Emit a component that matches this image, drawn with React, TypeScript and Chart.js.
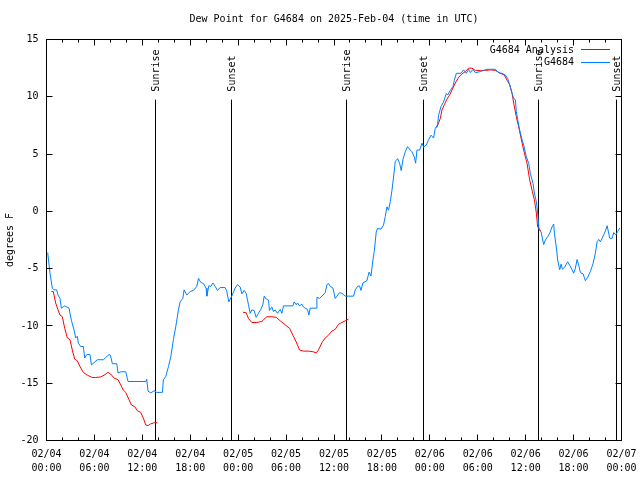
import React, { useEffect, useRef } from "react";
import { Chart, registerables } from "chart.js";

Chart.register(...registerables);

const FONT = '"DejaVu Sans Mono", "Liberation Mono", monospace';

const titleText = "Dew Point for G4684 on 2025-Feb-04 (time in UTC)";
const yAxisTitle = "degrees F";
const seriesNames = ["G4684 Analysis", "G4684"];
const seriesColors = ["#ff0000", "#0080ff"];

// x axis: hours since 02/04 00:00 UTC
const tickDays = ["02/04", "02/05", "02/06", "02/07"];
const tickTimes = ["00:00", "06:00", "12:00", "18:00"];

const eventHours = [13.63, 23.16, 37.57, 47.22, 61.63, 71.33];
const eventLabels = ["Sunrise", "Sunset", "Sunrise", "Sunset", "Sunrise", "Sunset"];

const blueHours = [
  0.15, 0.44, 0.73, 0.94, 1.27, 1.44, 1.69, 1.86, 2.28, 2.82, 3.11, 3.45, 3.66, 3.86, 3.99, 4.28, 4.61, 4.79,
  5.04, 5.45, 5.62, 5.95, 6.37, 7.12, 7.42, 7.83, 8.0, 8.25, 8.8, 8.96, 9.37, 9.92, 10.21, 12.43, 12.55, 12.72,
  13.05, 13.47, 13.8, 14.51, 14.64, 14.94, 15.27, 15.56, 15.89, 16.19, 16.52, 16.73, 17.07, 17.23, 17.57, 17.98,
  18.4, 18.82, 19.03, 19.32, 19.65, 19.99, 20.08, 20.33, 20.58, 20.83, 21.12, 21.41, 21.74, 22.37, 22.58, 22.83,
  23.2, 23.62, 23.91, 24.25, 24.46, 24.75, 25.0, 25.29, 25.5, 25.71, 26.0, 26.25, 26.54, 26.84, 27.09, 27.26,
  27.51, 27.8, 27.92, 28.22, 28.42, 28.63, 28.92, 29.26, 29.47, 29.67, 30.85, 31.02, 31.27, 31.43, 31.68, 31.98,
  32.18, 32.39, 32.68, 32.86, 33.02, 33.77, 33.86, 34.19, 34.49, 34.9, 35.11, 35.32, 35.53, 35.87, 36.15, 36.37,
  36.7, 36.99, 37.41, 38.45, 38.66, 38.95, 39.2, 39.37, 39.62, 40.12, 40.4, 40.63, 40.87, 41.04, 41.29, 41.45,
  41.88, 42.2, 42.42, 42.63, 42.83, 43.05, 43.26, 43.46, 43.67, 43.96, 44.21, 44.42, 44.64, 44.92, 45.21, 45.55,
  45.76, 46.05, 46.22, 46.39, 46.72, 47.02, 47.22, 47.56, 47.85, 48.15, 48.47, 48.68, 48.97, 49.1, 49.4, 49.72,
  50.06, 50.22, 50.56, 50.9, 51.07, 51.32, 51.9, 52.23, 52.57, 52.86, 53.07, 53.41, 53.7, 54.32, 54.74, 55.16,
  56.2, 56.62, 57.04, 57.46, 57.75, 58.0, 58.3, 58.5, 58.71, 58.83, 59.0, 59.25, 59.55, 59.75, 60.09, 60.38,
  60.59, 60.92, 61.09, 61.34, 61.5, 61.68, 61.93, 62.26, 62.47, 62.76, 63.01, 63.31, 63.51, 63.6, 63.85, 64.01,
  64.26, 64.44, 64.6, 64.85, 65.26, 65.51, 65.81, 66.02, 66.23, 66.44, 66.64, 66.86, 67.19, 67.48, 67.77, 68.1,
  68.44, 68.73, 68.94, 69.15, 69.36, 69.57, 69.77, 69.99, 70.2, 70.53, 70.83, 71.03, 71.28, 71.53, 71.78,
];
const blueValues = [
  -3.6, -5.4, -6.7, -6.85, -6.85, -7.3, -7.6, -8.45, -8.25, -8.45, -9.5, -10.35, -11.05, -10.9, -11.5, -11.8, -11.8, -12.8,
  -12.5, -12.5, -13.4, -13.2, -12.95, -12.95, -12.75, -12.5, -12.55, -13.3, -13.3, -14.1, -14.0, -14.0, -14.85, -14.85, -14.65, -15.7,
  -15.85, -15.65, -15.8, -15.8, -14.7, -14.4, -13.55, -12.7, -11.2, -10.05, -8.6, -7.9, -7.6, -6.85, -7.3, -7.0,
  -6.9, -6.55, -5.85, -6.2, -6.3, -6.7, -7.4, -6.5, -6.55, -6.25, -6.55, -6.9, -6.65, -6.65, -7.0, -7.9,
  -7.4, -6.7, -6.4, -6.6, -7.2, -6.9, -7.15, -8.15, -8.9, -8.6, -8.65, -9.25, -8.9, -8.55, -8.15, -7.4,
  -7.65, -7.75, -8.65, -8.35, -8.75, -8.6, -8.9, -8.55, -8.9, -8.25, -8.25, -7.9, -8.15, -8.0, -8.25, -8.1,
  -8.35, -8.45, -8.55, -9.05, -8.45, -8.45, -7.5, -7.6, -7.4, -7.1, -6.4, -6.3, -6.55, -6.7, -7.6, -7.4,
  -7.1, -7.15, -7.4, -7.4, -6.85, -6.55, -6.5, -6.9, -6.25, -6.05, -5.3, -5.65, -4.25, -3.5, -1.8, -1.5,
  -1.55, -1.2, -0.45, 0.4, 0.1, 0.85, 1.85, 3.0, 4.35, 4.6, 4.2, 3.55, 4.55, 5.2, 5.65, 5.35,
  5.2, 4.75, 4.2, 5.35, 5.35, 5.95, 5.6, 5.8, 6.25, 6.65, 6.4, 7.25, 7.55, 8.4, 9.15, 9.55,
  10.3, 10.15, 10.55, 10.9, 11.45, 12.05, 12.05, 12.35, 12.05, 12.4, 12.1, 12.4, 12.1, 12.2, 12.3, 12.4,
  12.4, 12.1, 12.05, 11.9, 11.6, 11.05, 10.3, 9.85, 9.75, 8.7, 8.0, 7.1, 6.25, 5.8, 4.75, 4.2,
  3.3, 2.45, 1.6, 0.85, -0.15, -1.6, -1.8, -2.9, -2.5, -2.2, -1.9, -1.35, -1.1, -1.9, -3.2, -4.25,
  -5.1, -4.6, -5.05, -4.9, -4.4, -4.7, -5.1, -5.4, -4.95, -4.2, -4.7, -5.35, -5.45, -6.05, -5.75, -5.25,
  -4.55, -3.65, -2.65, -2.45, -2.65, -2.35, -2.05, -1.7, -1.25, -2.35, -2.35, -1.85, -2.05, -1.75, -1.45,
];

// analysis series, null marks a gap
const redHours = [
  0.6, 0.85, 1.15, 1.44, 1.69, 1.98, 2.28, 2.61, 2.94, 3.23, 3.53, 3.86, 4.2, 4.61, 5.11, 5.74, 6.17, 6.79,
  7.21, 7.71, 8.04, 8.46, 8.96, 9.3, 9.62, 9.92, 10.34, 10.63, 11.05, 11.38, 11.8, 12.13, 12.43, 12.72, 13.05,
  13.47, 13.88,
  19.0,
  24.59, 25.0, 25.29, 25.71, 26.34, 26.97, 27.59, 28.22, 28.76, 29.26, 29.89, 30.43, 30.85, 31.27, 31.68, 32.18,
  32.81, 33.36, 33.77, 34.06, 34.49, 34.9, 35.32, 35.74, 36.15, 36.57, 36.99, 37.41, 37.82,
  43.0,
  48.85, 49.31, 49.52, 49.81, 50.15, 50.48, 50.78, 51.19, 51.6, 52.03, 52.44, 52.86, 53.28, 53.7, 54.32, 54.95,
  55.58, 56.2, 56.83, 57.33, 57.67, 58.0, 58.3, 58.5, 58.83, 59.12, 59.42, 59.75, 60.17, 60.5, 60.8, 61.09,
  61.34, 61.5, 61.75, 61.93,
];
const redValues = [
  -7.0, -7.0, -8.0, -8.6, -9.05, -9.2, -10.2, -11.05, -11.2, -12.1, -12.9, -13.05, -13.55, -14.05, -14.3, -14.5, -14.5, -14.45,
  -14.3, -14.05, -14.2, -14.55, -14.7, -15.15, -15.6, -15.8, -16.45, -16.9, -17.05, -17.4, -17.55, -18.05, -18.65, -18.7, -18.55,
  -18.45, -18.45,
  null,
  -8.8, -8.85, -9.35, -9.7, -9.7, -9.6, -9.2, -9.2, -9.25, -9.55, -9.9, -10.2, -10.8, -11.4, -12.1, -12.2,
  -12.2, -12.25, -12.35, -12.1, -11.45, -11.05, -10.8, -10.45, -10.3, -9.85, -9.7, -9.55, -9.4,
  null,
  7.3, 8.1, 8.85, 9.3, 9.8, 10.15, 10.6, 11.2, 11.7, 12.0, 12.2, 12.5, 12.5, 12.3, 12.3, 12.3,
  12.35, 12.3, 12.05, 11.9, 11.45, 11.05, 10.3, 9.45, 8.25, 7.4, 6.4, 5.35, 4.2, 2.75, 1.85, 1.0,
  -0.15, -1.35, -1.6, -1.7,
];

const X_MIN = 0;
const X_MAX = 72;
const Y_MIN = -20;
const Y_MAX = 15;

const decorPlugin = {
  id: "decor",
  beforeDatasetsDraw(chart: any) {
    const { ctx, chartArea, scales } = chart;
    const xs = scales.x;
    const h = chartArea.bottom - chartArea.top;
    ctx.save();
    ctx.strokeStyle = "#000";
    ctx.lineWidth = 1;
    ctx.fillStyle = "#000";
    ctx.font = `10px ${FONT}`;
    eventHours.forEach((hr, i) => {
      const px = Math.floor(xs.getPixelForValue(hr)) + 0.5;
      ctx.beginPath();
      ctx.moveTo(px, chartArea.top + 0.15 * h);
      ctx.lineTo(px, chartArea.bottom);
      ctx.stroke();
      ctx.save();
      ctx.translate(px + 1, chartArea.top + 0.13 * h);
      ctx.rotate(-Math.PI / 2);
      ctx.textAlign = "left";
      ctx.textBaseline = "middle";
      ctx.fillText(eventLabels[i], 0, 0);
      ctx.restore();
    });
    ctx.restore();
  },
  afterDatasetsDraw(chart: any) {
    const { ctx, chartArea, scales } = chart;
    const xs = scales.x;
    const ys = scales.y;
    const { left, right, top, bottom } = chartArea;
    ctx.save();
    ctx.strokeStyle = "#000";
    ctx.lineWidth = 1;
    ctx.strokeRect(left, top, right - left, bottom - top);
    ctx.beginPath();
    for (let v = X_MIN; v <= X_MAX; v += 2) {
      const px = Math.floor(xs.getPixelForValue(v)) + 0.5;
      const len = v % 6 === 0 ? 6 : 3;
      ctx.moveTo(px, bottom);
      ctx.lineTo(px, bottom - len);
      ctx.moveTo(px, top);
      ctx.lineTo(px, top + len);
    }
    for (let v = Y_MIN; v <= Y_MAX; v += 5) {
      const py = Math.floor(ys.getPixelForValue(v)) + 0.5;
      ctx.moveTo(left, py);
      ctx.lineTo(left + 6, py);
      ctx.moveTo(right, py);
      ctx.lineTo(right - 6, py);
    }
    ctx.stroke();

    ctx.fillStyle = "#000";
    ctx.font = `10px ${FONT}`;
    ctx.textAlign = "center";
    ctx.textBaseline = "middle";
    ctx.fillText(titleText, (left + right) / 2, 19.5);

    ctx.save();
    ctx.translate(10.5, 240);
    ctx.rotate(-Math.PI / 2);
    ctx.fillText(yAxisTitle, 0, 0);
    ctx.restore();

    const rows = [50, 62.5];
    seriesNames.forEach((name, i) => {
      ctx.textAlign = "right";
      ctx.fillStyle = "#000";
      ctx.fillText(name, 574, rows[i]);
      ctx.strokeStyle = seriesColors[i];
      ctx.beginPath();
      ctx.moveTo(581, Math.floor(rows[i]) - 0.5 + (i === 1 ? 1 : 0));
      ctx.lineTo(610, Math.floor(rows[i]) - 0.5 + (i === 1 ? 1 : 0));
      ctx.stroke();
    });
    ctx.restore();
  },
};

export default function App() {
  const canvasRef = useRef<HTMLCanvasElement | null>(null);

  useEffect(() => {
    if (!canvasRef.current) return;
    const chart = new Chart(canvasRef.current, {
      type: "line",
      data: {
        datasets: [
          {
            label: seriesNames[1],
            data: blueHours.map((x, i) => ({ x, y: blueValues[i] })),
            borderColor: seriesColors[1],
            borderWidth: 1,
            pointRadius: 0,
            tension: 0,
            fill: false,
            order: 0,
          },
          {
            label: seriesNames[0],
            data: redHours.map((x, i) => ({ x, y: redValues[i] })),
            borderColor: seriesColors[0],
            borderWidth: 1,
            pointRadius: 0,
            tension: 0,
            fill: false,
            spanGaps: false,
            order: 1,
          },
        ],
      },
      options: {
        responsive: false,
        animation: false,
        devicePixelRatio: 1,
        layout: { autoPadding: false, padding: { top: 39.5, right: 18.5, left: 0, bottom: 0 } },
        plugins: {
          legend: { display: false },
          title: { display: false },
          tooltip: { enabled: false },
        },
        scales: {
          x: {
            type: "linear",
            min: X_MIN,
            max: X_MAX,
            grid: { display: false, drawTicks: false },
            border: { display: false },
            afterFit: (scale: any) => {
              scale.height = 39.5;
              scale.paddingLeft = 0;
              scale.paddingRight = 0;
            },
            afterBuildTicks: (scale: any) => {
              const t = [];
              for (let v = X_MIN; v <= X_MAX; v += 6) t.push({ value: v });
              scale.ticks = t;
            },
            ticks: {
              autoSkip: false,
              maxRotation: 0,
              minRotation: 0,
              padding: 7,
              color: "#000",
              font: { family: FONT, size: 10, lineHeight: 1.4 },
              callback: (value: any) => {
                const v = Number(value);
                const day = Math.floor(v / 24);
                const slot = Math.round((v % 24) / 6);
                return [tickDays[day], tickTimes[slot]];
              },
            },
          },
          y: {
            type: "linear",
            min: Y_MIN,
            max: Y_MAX,
            grid: { display: false, drawTicks: false },
            border: { display: false },
            afterFit: (scale: any) => {
              scale.width = 46.5;
              scale.paddingTop = 0;
              scale.paddingBottom = 0;
            },
            ticks: {
              stepSize: 5,
              padding: 8,
              color: "#000",
              font: { family: FONT, size: 10 },
              callback: (value: any) => String(value),
            },
          },
        },
      },
      plugins: [decorPlugin],
    } as any);
    return () => chart.destroy();
  }, []);

  return (
    <div style={{ position: "fixed", left: 0, top: 0, width: 640, height: 480, background: "#fff" }}>
      <canvas ref={canvasRef} width={640} height={480} style={{ display: "block" }} />
    </div>
  );
}
